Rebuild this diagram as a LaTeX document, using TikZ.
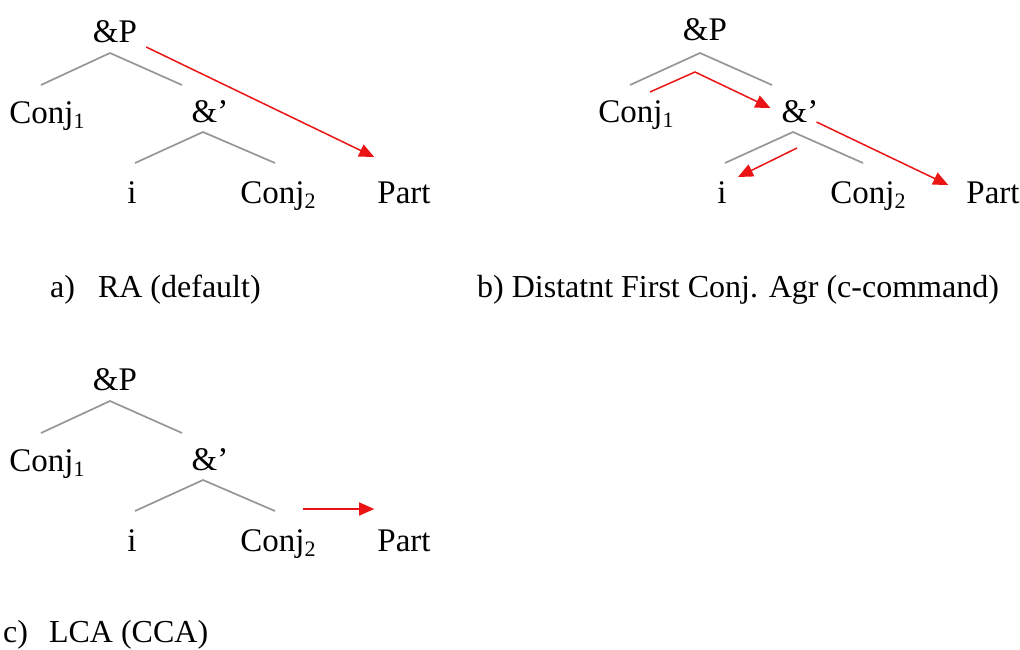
\documentclass[tikz,border=0pt]{standalone}
\usepackage{fontspec}
\setmainfont{Liberation Serif}
\usepackage{xcolor}
\usepackage{tikz}
\usetikzlibrary{arrows.meta,positioning}

\definecolor{branchgray}{RGB}{150,150,150}
\definecolor{agreered}{RGB}{235,20,20}
\newcommand{\lowsub}[1]{\raisebox{-5pt}{\fontsize{22}{22}\selectfont #1}}

\begin{document}
\begin{tikzpicture}[
    x=1pt, y=-1pt,
    word/.style={inner sep=0pt, anchor=base, font=\fontsize{33}{40}\selectfont},
    caption/.style={inner sep=0pt, anchor=base west, font=\fontsize{32}{40}\selectfont},
    branch/.style={draw=branchgray, line width=1.7pt},
    agree/.style={draw=agreered, line width=1.5pt, -{Triangle[length=15pt,width=13pt]}}
]
\useasboundingbox (0,0) rectangle (1020,649);

% Tree a
\node (aP) [word] at (115,42) {\&P};
\node (aC1) [word] at (47,123) {Conj\lowsub{1}};
\node (aBar) [word] at (210,122) {\&'};
\node (aI) [word] at (132,203) {i};
\node (aC2) [word] at (278,203) {Conj\lowsub{2}};
\node (aPart) [word] at (404,203) {Part};

\coordinate (aTop) at (110,53);
\coordinate (aL) at (41,85);
\coordinate (aR) at (182,85);
\coordinate (aBarTop) at (203,132);
\coordinate (aBarL) at (135,163);
\coordinate (aBarR) at (275,163);
\draw [branch] (aL) -- (aTop) -- (aR);
\draw [branch] (aBarL) -- (aBarTop) -- (aBarR);

\draw [agree] ([shift={(9pt,-5pt)}]aP.base east) -- ([shift={(-3pt,46pt)}]aPart.base west);

% Tree b
\node (bP) [word] at (705,40) {\&P};
\node (bC1) [word] at (636,122) {Conj\lowsub{1}};
\node (bBar) [word] at (800,122) {\&'};
\node (bI) [word] at (722,203) {i};
\node (bC2) [word] at (868,203) {Conj\lowsub{2}};
\node (bPart) [word] at (993,203) {Part};

\coordinate (bTop) at (700,53);
\coordinate (bL) at (630,85);
\coordinate (bR) at (772,85);
\coordinate (bBarTop) at (793,132);
\coordinate (bBarL) at (725,163);
\coordinate (bBarR) at (863,163);
\draw [branch] (bL) -- (bTop) -- (bR);
\draw [branch] (bBarL) -- (bBarTop) -- (bBarR);

\coordinate (bBend) at (695,72);
\draw [agree] ([shift={(14pt,30pt)}]bC1.base) -- (bBend) -- ([shift={(-11pt,14pt)}]bBar.base west);
\draw [agree] ([shift={(-2pt,0pt)}]bBar.base east) -- ([shift={(-18pt,18pt)}]bPart.base west);
\draw [agree] ([shift={(-3pt,-26pt)}]bBar.base) -- ([shift={(16pt,26pt)}]bI.base);

% Tree c
\node (cP) [word] at (115,390) {\&P};
\node (cC1) [word] at (47,471) {Conj\lowsub{1}};
\node (cBar) [word] at (210,470) {\&'};
\node (cI) [word] at (132,551) {i};
\node (cC2) [word] at (278,551) {Conj\lowsub{2}};
\node (cPart) [word] at (404,551) {Part};

\coordinate (cTop) at (110,401);
\coordinate (cL) at (41,433);
\coordinate (cR) at (182,433);
\coordinate (cBarTop) at (203,480);
\coordinate (cBarL) at (135,511);
\coordinate (cBarR) at (275,511);
\draw [branch] (cL) -- (cTop) -- (cR);
\draw [branch] (cBarL) -- (cBarTop) -- (cBarR);

\draw [agree] ([shift={(-13pt,42pt)}]cC2.base east) -- ([shift={(-3pt,42pt)}]cPart.base west);

% Captions
\node (capA) [caption] at (50,297) {a)\hspace{23pt}RA (default)};
\node (capB) [caption] at (477,297) {b) Distatnt First Conj. Agr (c-command)};
\node (capC) [caption] at (3,642) {c)\hspace{21pt}LCA (CCA)};

\end{tikzpicture}
\end{document}
